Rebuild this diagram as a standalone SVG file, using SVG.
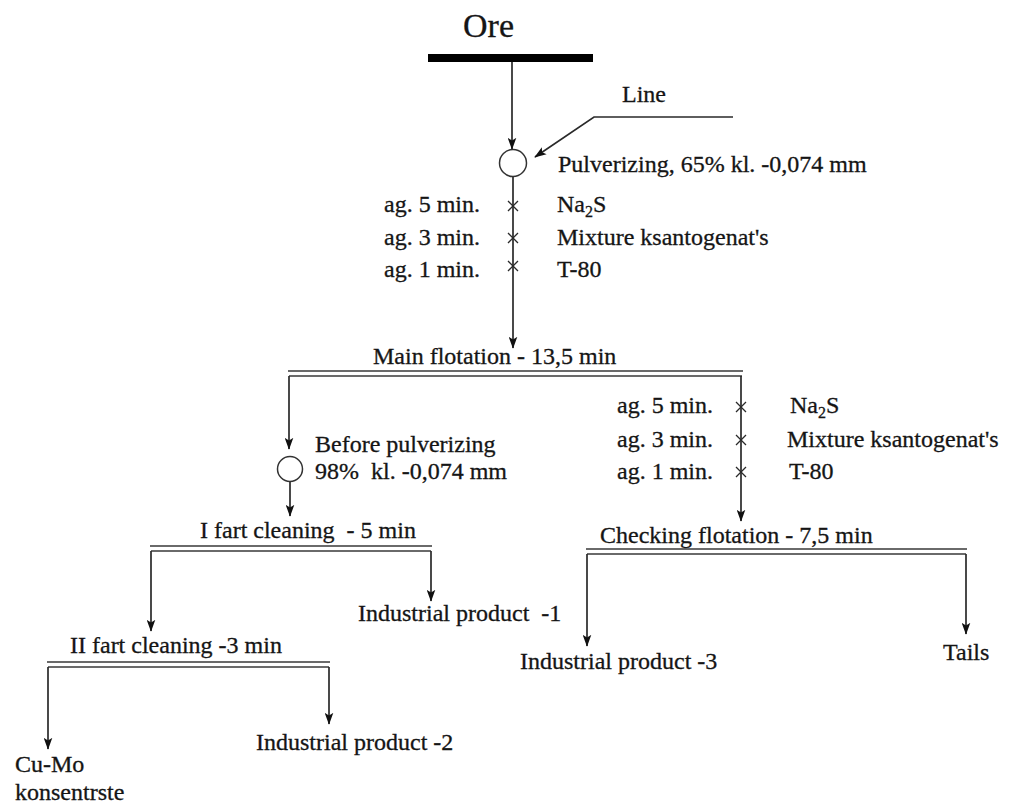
<svg xmlns="http://www.w3.org/2000/svg" width="1024" height="804" viewBox="0 0 1024 804">
<style>
text{font-family:"Liberation Serif","Times New Roman",serif;font-size:24px;fill:#151515;stroke:#151515;stroke-width:0.3;white-space:pre}
.ln{stroke:#2a2a2a;stroke-width:1.7;fill:none}
.dl{stroke:#3a3a3a;stroke-width:1.5;fill:none}
.cx{stroke:#2a2a2a;stroke-width:1.3;fill:none}
.end{text-anchor:end}
</style>
<defs>
<marker id="ah" markerUnits="userSpaceOnUse" markerWidth="12" markerHeight="9" refX="13" refY="5" orient="auto" viewBox="0 0 14 10">
<path d="M0,0 L14,5 L0,10 L3,5 z" fill="#111"/>
</marker>
</defs>
<rect width="1024" height="804" fill="#fff"/>

<g id="ore">
<text x="463" y="37" style="font-size:34px">Ore</text>
<rect x="428" y="54" width="165" height="8" fill="#000"/>
</g>

<g id="pulverizing">
<circle cx="513" cy="163" r="13.5" fill="#fff" stroke="#333" stroke-width="1.5"/>
<text x="558" y="172">Pulverizing, 65% kl. -0,074 mm</text>
<text x="622" y="102">Line</text>
</g>

<g id="reagents1">
<text class="end" x="480" y="212">ag. 5 min.</text>
<text class="end" x="480" y="245">ag. 3 min.</text>
<text class="end" x="480" y="277">ag. 1 min.</text>
<text x="557" y="212">Na<tspan style="font-size:16px" dy="5">2</tspan><tspan dy="-5">S</tspan></text>
<text x="557" y="245">Mixture ksantogenat's</text>
<text x="557" y="277">T-80</text>
<path class="cx" d="M508,201 L518,211 M518,201 L508,211 M508,233 L518,243 M518,233 L508,243 M508,261 L518,271 M518,261 L508,271"/>
</g>

<g id="main-flotation">
<text x="373" y="364">Main flotation - 13,5 min</text>
<path class="dl" d="M288,371 H743 M289,376 H742"/>
</g>

<g id="before-pulverizing">
<circle cx="290" cy="469" r="12.5" fill="#fff" stroke="#333" stroke-width="1.5"/>
<text x="315" y="452">Before pulverizing</text>
<text x="315" y="479">98%  kl. -0,074 mm</text>
</g>

<g id="cleaning1">
<text x="200" y="538">I fart cleaning  - 5 min</text>
<path class="dl" d="M150,546 H432 M151,551 H431"/>
</g>

<g id="industrial1">
<text x="358" y="621">Industrial product  -1</text>
</g>

<g id="cleaning2">
<text x="70" y="653">II fart cleaning -3 min</text>
<path class="dl" d="M47,662 H330 M48,667 H329"/>
</g>

<g id="industrial2">
<text x="256" y="750">Industrial product -2</text>
</g>

<g id="concentrate">
<text x="15" y="772">Cu-Mo</text>
<text x="15" y="800">konsentrste</text>
</g>

<g id="reagents2">
<text class="end" x="713" y="413">ag. 5 min.</text>
<text class="end" x="713" y="447">ag. 3 min.</text>
<text class="end" x="713" y="479">ag. 1 min.</text>
<text x="790" y="413">Na<tspan style="font-size:16px" dy="5">2</tspan><tspan dy="-5">S</tspan></text>
<text x="787" y="447">Mixture ksantogenat's</text>
<text x="789" y="479">T-80</text>
<path class="cx" d="M736,402 L746,412 M746,402 L736,412 M736,435 L746,445 M746,435 L736,445 M736,467 L746,477 M746,467 L736,477"/>
</g>

<g id="checking-flotation">
<text x="600" y="543">Checking flotation - 7,5 min</text>
<path class="dl" d="M586,549 H967 M587,554 H966"/>
</g>

<g id="industrial3">
<text x="520" y="669">Industrial product -3</text>
</g>

<g id="tails">
<text x="943" y="660">Tails</text>
</g>

<g id="connectors">
<path class="ln" d="M512,62 V149" marker-end="url(#ah)"/>
<path class="ln" d="M733,117 H594 L535,157" marker-end="url(#ah)"/>
<path class="ln" d="M513,177 V348" marker-end="url(#ah)"/>
<path class="ln" d="M289,376 V449" marker-end="url(#ah)"/>
<path class="ln" d="M290,482 V516" marker-end="url(#ah)"/>
<path class="ln" d="M741,376 V521" marker-end="url(#ah)"/>
<path class="ln" d="M151,551 V631" marker-end="url(#ah)"/>
<path class="ln" d="M431,551 V601" marker-end="url(#ah)"/>
<path class="ln" d="M48,667 V749" marker-end="url(#ah)"/>
<path class="ln" d="M329,667 V724" marker-end="url(#ah)"/>
<path class="ln" d="M587,554 V646" marker-end="url(#ah)"/>
<path class="ln" d="M966,554 V634" marker-end="url(#ah)"/>
</g>
</svg>
